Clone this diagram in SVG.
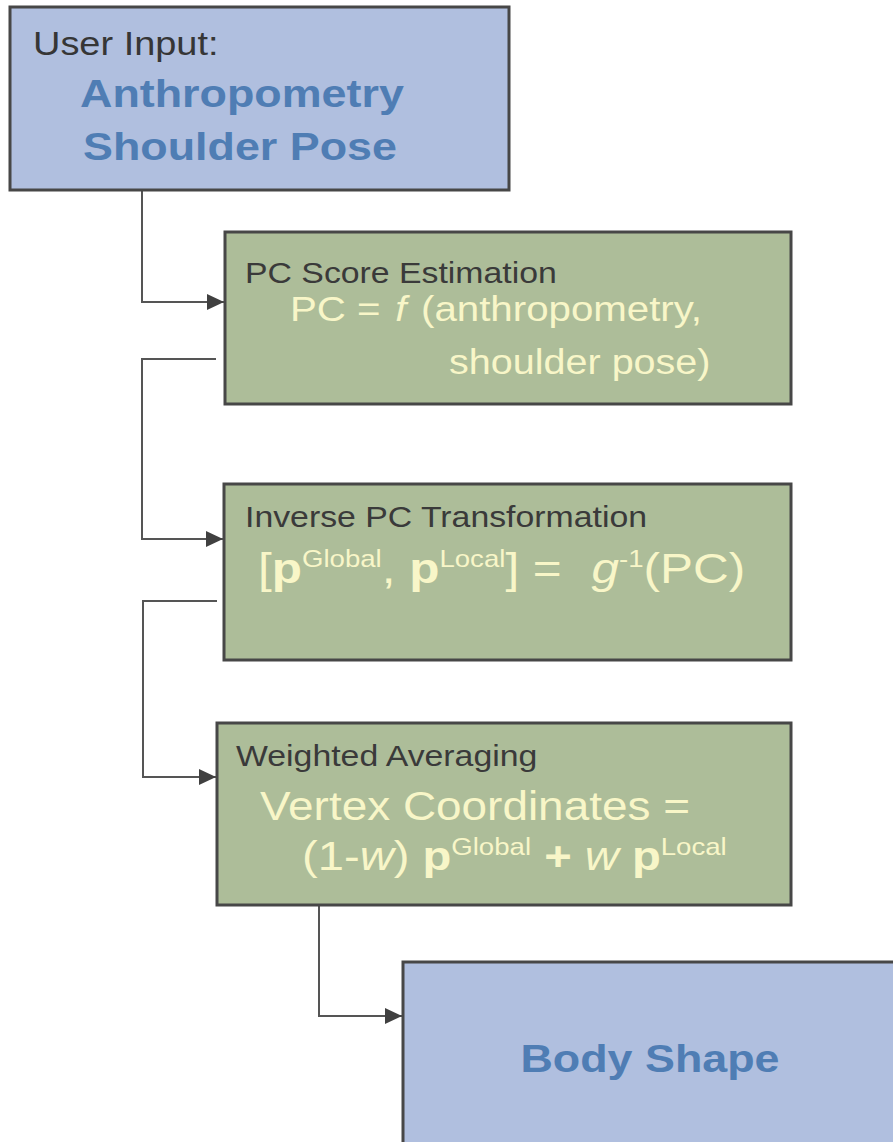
<svg xmlns="http://www.w3.org/2000/svg" width="893" height="1142" viewBox="0 0 893 1142">
  <style>
    .bb { fill: #b0bfdf; stroke: #474747; stroke-width: 3; }
    .bg { fill: #adbd99; stroke: #474747; stroke-width: 3; }
    .conn { fill: none; stroke: #555555; stroke-width: 2; }
    text { font-family: "Liberation Sans", Arial, Helvetica, sans-serif; }
    .head { font-size: 33px; fill: #363636; }
    .blue { font-size: 39px; font-weight: bold; fill: #4f7db4; }
    .sub { font-size: 29.4px; fill: #3a3a3a; }
    .f1 { font-size: 35px; fill: #f8f6c8; }
    .f2 { font-size: 41px; fill: #f8f6c8; }
    .f3 { font-size: 43px; fill: #f8f6c8; }
    .b { font-weight: bold; }
    .i { font-style: italic; }
    .sup { font-size: 24px; }
  </style>
  <defs>
    <marker id="arr" markerUnits="userSpaceOnUse" markerWidth="18" markerHeight="16" refX="17" refY="8" orient="auto">
      <path d="M0,0 L17,8 L0,16 Z" fill="#404040"/>
    </marker>
  </defs>

  <g id="connectors">
    <polyline class="conn" points="142,190 142,302 224,302" marker-end="url(#arr)"/>
    <polyline class="conn" points="216,359 142,359 142,539 223,539" marker-end="url(#arr)"/>
    <polyline class="conn" points="217,601 143,601 143,777 216,777" marker-end="url(#arr)"/>
    <polyline class="conn" points="319,905 319,1016 402,1016" marker-end="url(#arr)"/>
  </g>

  <g id="user-input">
    <rect class="bb" x="10" y="7" width="499" height="183"/>
    <text class="head" transform="translate(33,55) scale(1.15,1)">User Input:</text>
    <text class="blue" transform="translate(80,107) scale(1.15,1)">Anthropometry</text>
    <text class="blue" transform="translate(83,160) scale(1.15,1)">Shoulder Pose</text>
  </g>

  <g id="pc-score">
    <rect class="bg" x="225" y="232" width="566" height="172"/>
    <text class="sub" transform="translate(245,283) scale(1.15,1)">PC Score Estimation</text>
    <text class="f1" transform="translate(290,321) scale(1.15,1)">PC = <tspan class="i" dx="3">f</tspan><tspan dx="3"> (anthropometry,</tspan></text>
    <text class="f1" transform="translate(449,374) scale(1.13,1)">shoulder pose)</text>
  </g>

  <g id="inverse-pc">
    <rect class="bg" x="224" y="484" width="567" height="176"/>
    <text class="sub" transform="translate(245,527) scale(1.15,1)">Inverse PC Transformation</text>
    <text class="f3" transform="translate(258,583) scale(1.15,1)">[<tspan class="b">p</tspan><tspan class="sup" dy="-16">Global</tspan><tspan dy="16">, </tspan><tspan class="b">p</tspan><tspan class="sup" dy="-16">Local</tspan><tspan dy="16">] = </tspan><tspan class="i" dx="14">g</tspan><tspan class="sup" dy="-16">-1</tspan><tspan dy="16">(PC)</tspan></text>
  </g>

  <g id="weighted-avg">
    <rect class="bg" x="217" y="723" width="574" height="182"/>
    <text class="sub" transform="translate(236,766) scale(1.15,1)">Weighted Averaging</text>
    <text class="f2" transform="translate(260,820) scale(1.12,1)">Vertex Coordinates =</text>
    <text class="f2" transform="translate(302,870) scale(1.15,1)">(1-<tspan class="i">w</tspan>) <tspan class="b">p</tspan><tspan class="sup" dy="-15">Global</tspan><tspan dy="15"> </tspan><tspan class="b">+</tspan> <tspan class="i">w</tspan> <tspan class="b">p</tspan><tspan class="sup" dy="-15">Local</tspan></text>
  </g>

  <g id="body-shape">
    <rect class="bb" x="403" y="962" width="500" height="190"/>
    <text class="blue" text-anchor="middle" transform="translate(650,1072) scale(1.15,1)">Body Shape</text>
  </g>
</svg>
